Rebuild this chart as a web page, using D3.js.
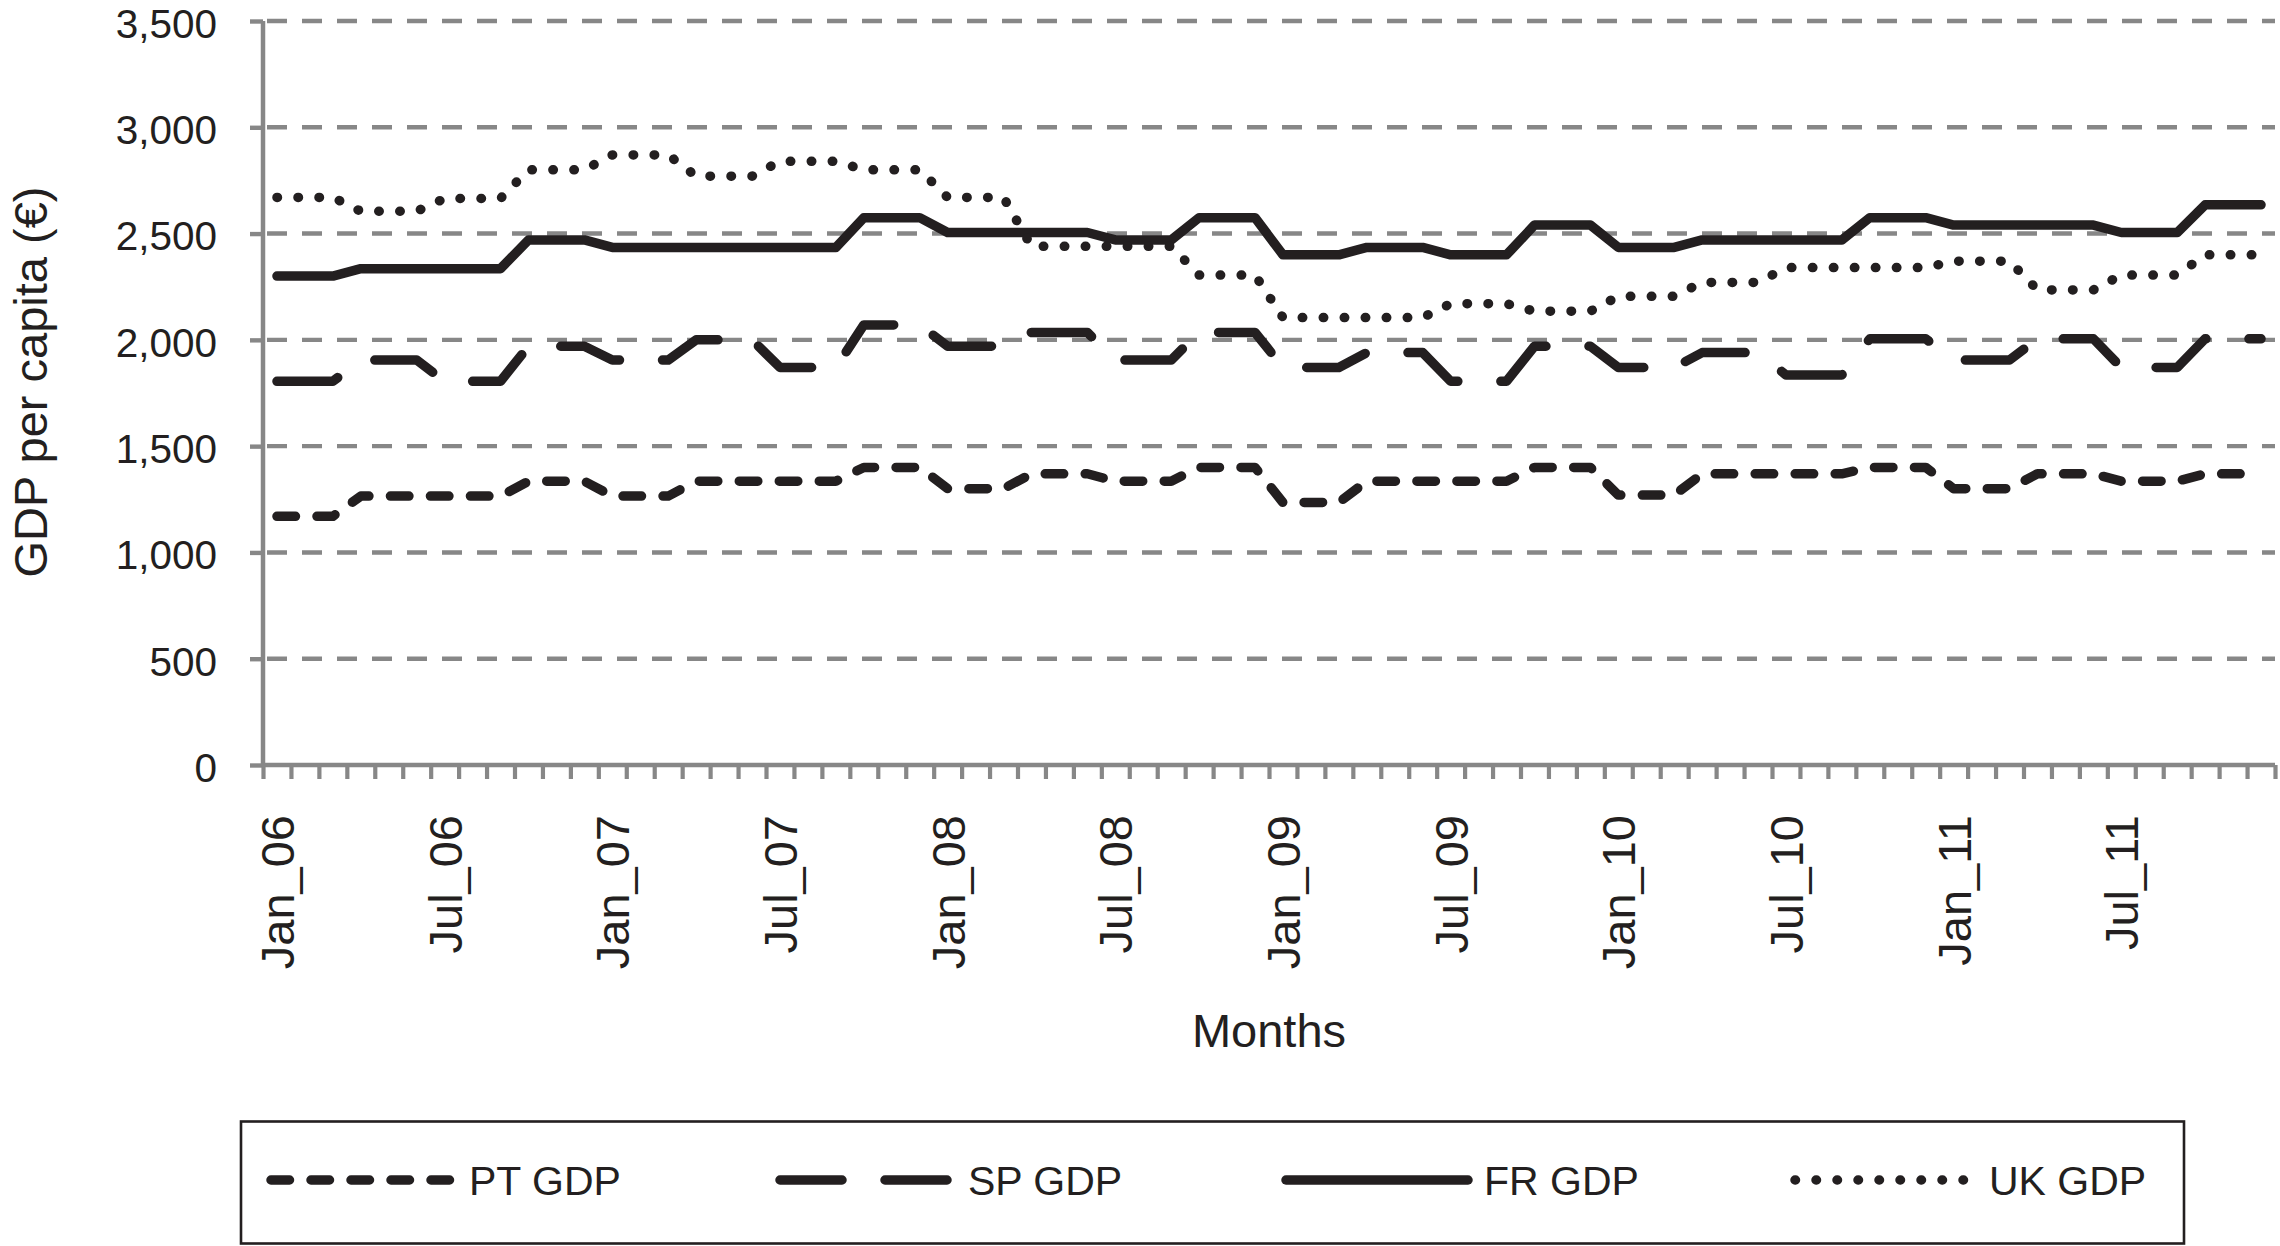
<!DOCTYPE html>
<html>
<head>
<meta charset="utf-8">
<script src="https://cdn.jsdelivr.net/npm/d3@7"></script>
<style>
  body { margin: 0; background: #fff; }
  svg { display: block; font-family: "Liberation Sans", Arial, sans-serif; }
</style>
</head>
<body>
<div id="chart"></div>
<script>
const years = ["06", "07", "08", "09", "10", "11"];
const monthNames = ["Jan", "Feb", "Mar", "Apr", "May", "Jun", "Jul", "Aug", "Sep", "Oct", "Nov", "Dec"];
const months = d3.cross(years, monthNames).map(([yr, m]) => `${m}_${yr}`);

const tickLabels = ["Jan_06", "Jul_06", "Jan_07", "Jul_07", "Jan_08", "Jul_08",
  "Jan_09", "Jul_09", "Jan_10", "Jul_10", "Jan_11", "Jul_11"];
const yTicks = [0, 500, 1000, 1500, 2000, 2500, 3000, 3500];

const ptGdp = [
  1170, 1170, 1170, 1265, 1265, 1265, 1265, 1265, 1265, 1335, 1335, 1335,
  1265, 1265, 1265, 1335, 1335, 1335, 1335, 1335, 1335, 1400, 1400, 1400,
  1300, 1300, 1300, 1370, 1370, 1370, 1335, 1335, 1335, 1400, 1400, 1400,
  1235, 1235, 1235, 1335, 1335, 1335, 1335, 1335, 1335, 1400, 1400, 1400,
  1270, 1270, 1270, 1370, 1370, 1370, 1370, 1370, 1370, 1400, 1400, 1400,
  1300, 1300, 1300, 1370, 1370, 1370, 1335, 1335, 1335, 1370, 1370, 1370
];
const spGdp = [
  1805, 1805, 1805, 1905, 1905, 1905, 1805, 1805, 1805, 1970, 1970, 1970,
  1905, 1905, 1905, 2000, 2000, 2000, 1870, 1870, 1870, 2070, 2070, 2070,
  1970, 1970, 1970, 2035, 2035, 2035, 1905, 1905, 1905, 2035, 2035, 2035,
  1870, 1870, 1870, 1940, 1940, 1940, 1805, 1805, 1805, 1970, 1970, 1970,
  1870, 1870, 1870, 1940, 1940, 1940, 1835, 1835, 1835, 2005, 2005, 2005,
  1905, 1905, 1905, 2005, 2005, 2005, 1870, 1870, 1870, 2005, 2005, 2005
];
const frGdp = [
  2300, 2300, 2300, 2335, 2335, 2335, 2335, 2335, 2335, 2470, 2470, 2470,
  2435, 2435, 2435, 2435, 2435, 2435, 2435, 2435, 2435, 2575, 2575, 2575,
  2505, 2505, 2505, 2505, 2505, 2505, 2470, 2470, 2470, 2575, 2575, 2575,
  2400, 2400, 2400, 2435, 2435, 2435, 2400, 2400, 2400, 2540, 2540, 2540,
  2435, 2435, 2435, 2470, 2470, 2470, 2470, 2470, 2470, 2575, 2575, 2575,
  2540, 2540, 2540, 2540, 2540, 2540, 2505, 2505, 2505, 2635, 2635, 2635
];
const ukGdp = [
  2670, 2670, 2670, 2605, 2605, 2605, 2665, 2665, 2665, 2800, 2800, 2800,
  2870, 2870, 2870, 2770, 2770, 2770, 2840, 2840, 2840, 2800, 2800, 2800,
  2670, 2670, 2670, 2440, 2440, 2440, 2440, 2440, 2440, 2305, 2305, 2305,
  2105, 2105, 2105, 2105, 2105, 2105, 2170, 2170, 2170, 2135, 2135, 2135,
  2205, 2205, 2205, 2270, 2270, 2270, 2340, 2340, 2340, 2340, 2340, 2340,
  2370, 2370, 2370, 2235, 2235, 2235, 2305, 2305, 2305, 2400, 2400, 2400
];

const seriesNames = ["PT GDP", "SP GDP", "FR GDP", "UK GDP"];
const seriesValues = [ptGdp, spGdp, frGdp, ukGdp];

const width = 2280;
const height = 1246;
const ink = "#231f20";
const grey = "#878787";
const lineWidth = 9.5;
const dashes = ["18.5,21.5", "62,43", null, "0.5,20.5"];

const plotLeft = 263, plotRight = 2275, plotTop = 21, plotBottom = 765;

const x = d3.scaleBand().domain(months).range([plotLeft, plotRight]).padding(0);
const xEdge = d3.scaleLinear().domain([0, months.length]).range([plotLeft, plotRight]);
const y = d3.scaleLinear().domain([0, 3500]).range([plotBottom, plotTop]);

const svg = d3.select("#chart").append("svg")
  .attr("width", width)
  .attr("height", height);

svg.append("rect").attr("width", width).attr("height", height).attr("fill", "#fff");

// grid
svg.append("g")
  .selectAll("line")
  .data(yTicks.filter(d => d > 0))
  .join("line")
  .attr("x1", plotLeft)
  .attr("x2", plotRight)
  .attr("y1", d => y(d))
  .attr("y2", d => y(d))
  .attr("stroke", grey)
  .attr("stroke-width", 4.4)
  .attr("stroke-dasharray", "20,15")
  .attr("stroke-dashoffset", -4);

// y axis
svg.append("g")
  .attr("transform", `translate(${plotLeft},0)`)
  .call(d3.axisLeft(y).tickValues(yTicks).tickSize(13).tickPadding(33).tickFormat(d3.format(",")))
  .call(g => g.select(".domain").attr("stroke", grey).attr("stroke-width", 4.5).attr("d", `M0,${plotBottom}V${plotTop}`))
  .call(g => g.selectAll(".tick line").attr("stroke", grey).attr("stroke-width", 4.4))
  .call(g => g.selectAll(".tick text")
    .attr("fill", ink)
    .attr("dy", null)
    .attr("y", 16.3)
    .style("font-size", "40.5px")
    .style("font-family", "'Liberation Sans', Arial, sans-serif"));

// x axis
svg.append("g")
  .attr("transform", `translate(0,${plotBottom})`)
  .call(d3.axisBottom(xEdge).tickValues(d3.range(months.length + 1)).tickSize(14).tickFormat(""))
  .call(g => g.select(".domain").attr("stroke", grey).attr("stroke-width", 4.5).attr("d", `M${plotLeft},0H${plotRight}`))
  .call(g => g.selectAll(".tick line").attr("stroke", grey).attr("stroke-width", 4.2));

svg.append("g")
  .selectAll("text")
  .data(tickLabels)
  .join("text")
  .attr("transform", d => `translate(${x(d) + x.bandwidth() / 2},815) rotate(-90)`)
  .attr("text-anchor", "end")
  .attr("dy", "0.36em")
  .attr("fill", ink)
  .style("font-size", "47px")
  .text(d => d);

// axis titles
svg.append("text")
  .attr("transform", `translate(30,382) rotate(-90)`)
  .attr("text-anchor", "middle")
  .attr("dy", "0.36em")
  .attr("fill", ink)
  .style("font-size", "47px")
  .text("GDP per capita (€)");

svg.append("text")
  .attr("x", (plotLeft + plotRight) / 2)
  .attr("y", 1030)
  .attr("text-anchor", "middle")
  .attr("dy", "0.36em")
  .attr("fill", ink)
  .style("font-size", "47px")
  .text("Months");

// series
const line = d3.line()
  .x((d, i) => x(months[i]) + x.bandwidth() / 2)
  .y(d => y(d));

svg.append("g")
  .selectAll("path")
  .data(seriesValues)
  .join("path")
  .attr("d", d => line(d))
  .attr("fill", "none")
  .attr("stroke", ink)
  .attr("stroke-width", lineWidth)
  .attr("stroke-linecap", "round")
  .attr("stroke-linejoin", "round")
  .attr("stroke-dasharray", (d, i) => dashes[i]);

// legend
svg.append("rect")
  .attr("x", 241)
  .attr("y", 1121.5)
  .attr("width", 1943)
  .attr("height", 122)
  .attr("fill", "none")
  .attr("stroke", ink)
  .attr("stroke-width", 2.6);

const legendX = [271, 780, 1286, 1795];
const legendLen = [182, 172, 182, 178];
const item = svg.append("g")
  .selectAll("g")
  .data(seriesNames)
  .join("g")
  .attr("transform", (d, i) => `translate(${legendX[i]},1180)`);

item.append("line")
  .attr("x1", 0)
  .attr("x2", (d, i) => legendLen[i])
  .attr("stroke", ink)
  .attr("stroke-width", lineWidth)
  .attr("stroke-linecap", "round")
  .attr("stroke-dasharray", (d, i) => dashes[i]);

item.append("text")
  .attr("x", (d, i) => legendLen[i] + 16)
  .attr("dy", "0.36em")
  .attr("fill", ink)
  .style("font-size", "41px")
  .text(d => d);
</script>
</body>
</html>
